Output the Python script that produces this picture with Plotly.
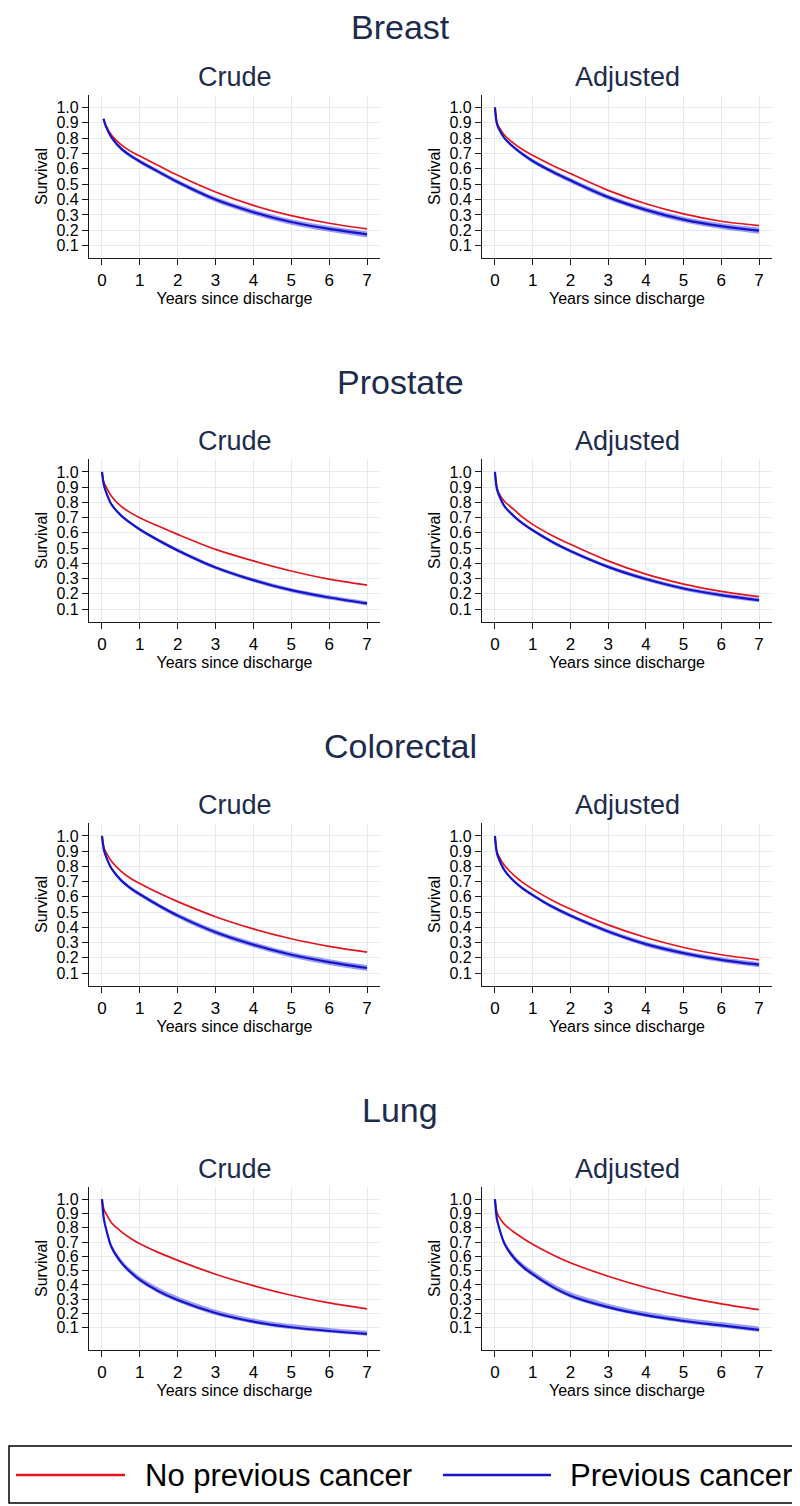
import plotly.graph_objects as go

# ---------------- data ----------------
cancers = ["Breast", "Prostate", "Colorectal", "Lung"]
models = ["Crude", "Adjusted"]
series_names = ["No previous cancer", "Previous cancer"]
x_ticks = [0, 1, 2, 3, 4, 5, 6, 7]
y_ticks = [0.1, 0.2, 0.3, 0.4, 0.5, 0.6, 0.7, 0.8, 0.9, 1.0]

years = [0, 0.05, 0.1, 0.25, 0.5, 0.75, 1, 1.5, 2, 3, 4, 5, 6, 7]
breast_crude_years = [0.04, 0.1, 0.25, 0.5, 0.75, 1, 1.5, 2, 3, 4, 5, 6, 7]

# Breast
breast_crude_no = [0.925, 0.885, 0.82, 0.757, 0.715, 0.683, 0.62, 0.558, 0.449, 0.362, 0.296, 0.246, 0.209]
breast_crude_prev = [0.925, 0.878, 0.805, 0.733, 0.686, 0.648, 0.58, 0.514, 0.40, 0.318, 0.254, 0.209, 0.174]
breast_crude_lo = [0.925, 0.872, 0.796, 0.722, 0.674, 0.635, 0.566, 0.499, 0.384, 0.301, 0.236, 0.190, 0.154]
breast_crude_hi = [0.925, 0.884, 0.814, 0.744, 0.698, 0.661, 0.594, 0.529, 0.416, 0.335, 0.272, 0.228, 0.194]

breast_adj_no = [1.0, 0.905, 0.874, 0.82, 0.765, 0.722, 0.688, 0.625, 0.569, 0.46, 0.373, 0.307, 0.259, 0.231]
breast_adj_prev = [1.0, 0.895, 0.862, 0.80, 0.74, 0.692, 0.651, 0.584, 0.525, 0.416, 0.333, 0.27, 0.227, 0.198]
breast_adj_lo = [1.0, 0.890, 0.855, 0.791, 0.729, 0.680, 0.638, 0.570, 0.510, 0.400, 0.316, 0.252, 0.208, 0.178]
breast_adj_hi = [1.0, 0.900, 0.869, 0.809, 0.751, 0.704, 0.664, 0.598, 0.540, 0.432, 0.350, 0.288, 0.246, 0.218]

# Prostate
prostate_crude_no = [1.0, 0.93, 0.906, 0.84, 0.775, 0.733, 0.70, 0.643, 0.59, 0.492, 0.416, 0.35, 0.296, 0.257]
prostate_crude_prev = [1.0, 0.915, 0.874, 0.787, 0.715, 0.665, 0.622, 0.55, 0.485, 0.373, 0.29, 0.224, 0.176, 0.137]
prostate_crude_lo = [1.0, 0.911, 0.869, 0.780, 0.707, 0.656, 0.612, 0.539, 0.473, 0.361, 0.277, 0.211, 0.162, 0.123]
prostate_crude_hi = [1.0, 0.919, 0.879, 0.794, 0.723, 0.674, 0.632, 0.561, 0.497, 0.385, 0.303, 0.237, 0.190, 0.151]

prostate_adj_no = [1.0, 0.9, 0.863, 0.808, 0.754, 0.70, 0.656, 0.585, 0.525, 0.416, 0.329, 0.264, 0.216, 0.181]
prostate_adj_prev = [1.0, 0.89, 0.852, 0.776, 0.71, 0.659, 0.617, 0.543, 0.481, 0.377, 0.297, 0.235, 0.192, 0.159]
prostate_adj_lo = [1.0, 0.886, 0.847, 0.769, 0.702, 0.650, 0.607, 0.532, 0.469, 0.365, 0.284, 0.222, 0.178, 0.145]
prostate_adj_hi = [1.0, 0.894, 0.857, 0.783, 0.718, 0.668, 0.627, 0.554, 0.493, 0.389, 0.310, 0.248, 0.206, 0.173]

# Colorectal
colorectal_crude_no = [1.0, 0.925, 0.895, 0.834, 0.769, 0.722, 0.688, 0.625, 0.569, 0.47, 0.39, 0.325, 0.275, 0.237]
colorectal_crude_prev = [1.0, 0.91, 0.869, 0.787, 0.71, 0.658, 0.617, 0.543, 0.477, 0.368, 0.286, 0.22, 0.172, 0.133]
colorectal_crude_lo = [1.0, 0.905, 0.862, 0.778, 0.699, 0.646, 0.604, 0.529, 0.462, 0.352, 0.269, 0.202, 0.153, 0.113]
colorectal_crude_hi = [1.0, 0.915, 0.876, 0.796, 0.721, 0.670, 0.630, 0.557, 0.492, 0.384, 0.303, 0.238, 0.191, 0.153]

colorectal_adj_no = [1.0, 0.9, 0.869, 0.808, 0.743, 0.692, 0.651, 0.58, 0.52, 0.416, 0.333, 0.268, 0.22, 0.187]
colorectal_adj_prev = [1.0, 0.89, 0.852, 0.776, 0.704, 0.653, 0.612, 0.538, 0.477, 0.373, 0.29, 0.231, 0.187, 0.155]
colorectal_adj_lo = [1.0, 0.886, 0.846, 0.768, 0.695, 0.643, 0.601, 0.526, 0.464, 0.359, 0.275, 0.215, 0.171, 0.138]
colorectal_adj_hi = [1.0, 0.894, 0.858, 0.784, 0.713, 0.663, 0.623, 0.550, 0.490, 0.387, 0.305, 0.247, 0.203, 0.172]

# Lung
lung_crude_no = [1.0, 0.93, 0.902, 0.835, 0.775, 0.727, 0.688, 0.626, 0.572, 0.475, 0.395, 0.328, 0.274, 0.233]
lung_crude_prev = [1.0, 0.86, 0.8, 0.665, 0.56, 0.49, 0.435, 0.355, 0.295, 0.204, 0.143, 0.104, 0.078, 0.058]
lung_crude_lo = [1.0, 0.853, 0.790, 0.651, 0.545, 0.475, 0.420, 0.340, 0.281, 0.190, 0.130, 0.091, 0.065, 0.045]
lung_crude_hi = [1.0, 0.868, 0.813, 0.684, 0.582, 0.513, 0.459, 0.380, 0.320, 0.227, 0.165, 0.126, 0.099, 0.079]

lung_adj_no = [1.0, 0.91, 0.88, 0.825, 0.77, 0.725, 0.685, 0.615, 0.555, 0.461, 0.382, 0.318, 0.268, 0.227]
lung_adj_prev = [1.0, 0.865, 0.81, 0.69, 0.59, 0.525, 0.475, 0.39, 0.325, 0.245, 0.189, 0.148, 0.117, 0.086]
lung_adj_lo = [1.0, 0.858, 0.800, 0.676, 0.575, 0.510, 0.460, 0.375, 0.311, 0.231, 0.175, 0.134, 0.103, 0.072]
lung_adj_hi = [1.0, 0.873, 0.823, 0.709, 0.612, 0.548, 0.499, 0.415, 0.350, 0.269, 0.212, 0.171, 0.140, 0.108]

panels = [
    [(breast_crude_years, breast_crude_no, breast_crude_prev, breast_crude_lo, breast_crude_hi),
     (years, breast_adj_no, breast_adj_prev, breast_adj_lo, breast_adj_hi)],
    [(years, prostate_crude_no, prostate_crude_prev, prostate_crude_lo, prostate_crude_hi),
     (years, prostate_adj_no, prostate_adj_prev, prostate_adj_lo, prostate_adj_hi)],
    [(years, colorectal_crude_no, colorectal_crude_prev, colorectal_crude_lo, colorectal_crude_hi),
     (years, colorectal_adj_no, colorectal_adj_prev, colorectal_adj_lo, colorectal_adj_hi)],
    [(years, lung_crude_no, lung_crude_prev, lung_crude_lo, lung_crude_hi),
     (years, lung_adj_no, lung_adj_prev, lung_adj_lo, lung_adj_hi)],
]

# ---------------- styling ----------------
PAGE_OFF = 8                      # default body margin of the html page
W, H = 800 - PAGE_OFF, 1506 - PAGE_OFF
RED = "#e3141c"
BLUE = "#1414c8"
BAND = "rgba(90,90,235,0.6)"
GRID = "#e2ebf0"
NAVY = "#1d2b4c"
FONT = "Arial, Liberation Sans, sans-serif"

ROW_STEP = 364
PLOT_TOP, PLOT_BOTTOM = 95, 258
COLS_X = [(89, 380), (482, 772)]
Y_RANGES = [[0.02, 1.08], [0.015, 1.085], [0.015, 1.085], [-0.055, 1.085]]
MAIN_TITLE_Y = [27, 18 + ROW_STEP, 18 + 2 * ROW_STEP, 18 + 3 * ROW_STEP]


def fx(p):
    return (p - PAGE_OFF) / W


def fy(p):
    return 1 - (p - PAGE_OFF) / H


fig = go.Figure()
layout = dict(
    width=W, height=H, margin=dict(l=0, r=0, t=0, b=0),
    paper_bgcolor="white", plot_bgcolor="white", showlegend=False,
    font=dict(family=FONT, color="black"),
)
annotations = []
shapes = []
SPL = dict(shape="spline", smoothing=0.9)

for r, cancer in enumerate(cancers):
    off = r * ROW_STEP
    annotations.append(dict(text=cancer, x=fx(400), y=fy(MAIN_TITLE_Y[r]), xref="paper", yref="paper",
                            xanchor="center", yanchor="middle", showarrow=False,
                            font=dict(size=34, color=NAVY, family=FONT)))
    for c, model in enumerate(models):
        k = r * 2 + c + 1
        xs, no, prev, lo, hi = panels[r][c]
        x0, x1 = COLS_X[c]
        xa = "x" if k == 1 else f"x{k}"
        ya = "y" if k == 1 else f"y{k}"
        fig.add_trace(go.Scatter(x=xs, y=hi, mode="lines", line=dict(width=0, **SPL),
                                 xaxis=xa, yaxis=ya, hoverinfo="skip"))
        fig.add_trace(go.Scatter(x=xs, y=lo, mode="lines", line=dict(width=0, **SPL),
                                 fill="tonexty", fillcolor=BAND, xaxis=xa, yaxis=ya, hoverinfo="skip"))
        fig.add_trace(go.Scatter(x=xs, y=no, mode="lines", name=series_names[0],
                                 line=dict(color=RED, width=1.7, **SPL), xaxis=xa, yaxis=ya))
        fig.add_trace(go.Scatter(x=xs, y=prev, mode="lines", name=series_names[1],
                                 line=dict(color=BLUE, width=2.2, **SPL), xaxis=xa, yaxis=ya))
        axis_common = dict(showline=True, linecolor="#1a1a1a", linewidth=1.3, ticks="outside",
                           ticklen=6, tickwidth=1.2, tickcolor="#1a1a1a", showgrid=True,
                           gridcolor=GRID, gridwidth=1, zeroline=False)
        layout["xaxis" if k == 1 else f"xaxis{k}"] = dict(
            domain=[fx(x0), fx(x1)], anchor=ya, range=[-0.343, 7.343], tickvals=x_ticks,
            tickfont=dict(size=17, family=FONT), title=dict(text="Years since discharge",
            font=dict(size=16, family=FONT), standoff=0), **axis_common)
        layout["yaxis" if k == 1 else f"yaxis{k}"] = dict(
            domain=[fy(PLOT_BOTTOM + off), fy(PLOT_TOP + off)], anchor=xa, range=Y_RANGES[r],
            tickvals=y_ticks, tickformat=".1f", tickfont=dict(size=16, family=FONT),
            title=dict(text="Survival", font=dict(size=16, family=FONT), standoff=4), **axis_common)
        annotations.append(dict(text=model, x=fx((x0 + x1) / 2), y=fy(77 + off), xref="paper",
                                yref="paper", xanchor="center", yanchor="middle", showarrow=False,
                                font=dict(size=27, color=NAVY, family=FONT)))

# legend box (drawn manually to match the wide line samples)
LEG_TOP, LEG_BOTTOM, LEG_MID = 1446, 1503, 1475
shapes.append(dict(type="rect", xref="paper", yref="paper", x0=fx(9), x1=fx(797),
                   y0=fy(LEG_BOTTOM), y1=fy(LEG_TOP), line=dict(color="black", width=1.5)))
for (lx0, lx1, tx), name, col in zip([(16, 125, 143), (443, 551, 568)], series_names, [RED, BLUE]):
    shapes.append(dict(type="line", xref="paper", yref="paper", x0=fx(lx0), x1=fx(lx1),
                       y0=fy(LEG_MID), y1=fy(LEG_MID), line=dict(color=col, width=2.5)))
    annotations.append(dict(text=name, x=fx(tx), y=fy(LEG_MID), xref="paper", yref="paper",
                            xanchor="left", yanchor="middle", showarrow=False,
                            font=dict(size=31, color="black", family=FONT)))

layout["annotations"] = annotations
layout["shapes"] = shapes
fig.update_layout(**layout)
fig.write_html("out.html")
